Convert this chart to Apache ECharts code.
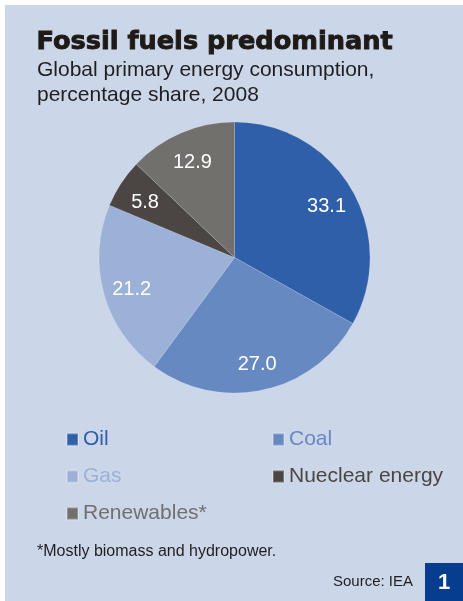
<!DOCTYPE html>
<html>
<head>
<meta charset="utf-8">
<title>Fossil fuels predominant</title>
<script src="https://cdn.jsdelivr.net/npm/echarts@6/dist/echarts.min.js"></script>
<style>
  html, body { margin: 0; padding: 0; background: #ffffff; }
  #chart { width: 463px; height: 601px; }
</style>
</head>
<body>
<div id="chart"></div>
<script>
// Global primary energy consumption, percentage share, 2008 (source: IEA)
const categories = ['Oil', 'Coal', 'Gas', 'Nueclear energy', 'Renewables*'];
const shares = [33.1, 27.0, 21.2, 5.8, 12.9];
const colors = ['#2f5fa9', '#6689c1', '#9cb1d8', '#4b4644', '#71706d'];

const FONT = '"Liberation Sans", Arial, Helvetica, sans-serif';
const HEAVY = '"DejaVu Sans", "Liberation Sans", Arial, sans-serif';
const PANEL = '#cbd6e8';
const CX = 234.5, CY = 257.5, R = 135.5;

const sliceData = categories.map((name, i) => ({
  name: name,
  value: shares[i],
  itemStyle: { color: colors[i] }
}));

const labelData = categories.map((name, i) => ({
  name: name,
  value: shares[i]
}));

const chart = echarts.init(document.getElementById('chart'), null, { renderer: 'canvas' });

chart.setOption({
  backgroundColor: '#ffffff',
  animation: false,
  graphic: [
    {
      type: 'rect', z: -10, silent: true,
      shape: { x: 5, y: 5, width: 458, height: 596 },
      style: { fill: PANEL }
    },
    {
      // heavy headline: bold face thickened with a thin outline of the same ink
      type: 'text', left: 36, top: 29,
      style: {
        text: 'Fossil fuels predominant',
        font: 'bold 25.6px ' + HEAVY,
        fill: '#1e1a17',
        stroke: '#1e1a17',
        lineWidth: 0.9
      }
    },
    {
      type: 'text', left: 37, top: 58,
      style: {
        text: 'Global primary energy consumption,\npercentage share, 2008',
        font: '21px ' + FONT,
        lineHeight: 25,
        fill: '#1f1f1f'
      }
    },
    {
      type: 'text', left: 37, top: 544,
      style: {
        text: '*Mostly biomass and hydropower.',
        font: '16px ' + FONT,
        fill: '#1f1f1f'
      }
    },
    {
      type: 'text', left: 333, top: 574,
      style: {
        text: 'Source: IEA',
        font: '15px ' + FONT,
        fill: '#1f1f1f'
      }
    },
    {
      type: 'rect', silent: true,
      shape: { x: 425, y: 563, width: 38, height: 38 },
      style: { fill: '#063d8f' }
    },
    {
      type: 'text', silent: true,
      x: 444, y: 583,
      style: {
        text: '1',
        font: 'bold 22px ' + FONT,
        fill: '#ffffff',
        align: 'center',
        verticalAlign: 'middle'
      }
    }
  ],
  legend: {
    left: 66,
    top: 429,
    width: 420,
    padding: 0,
    orient: 'horizontal',
    icon: 'rect',
    itemWidth: 11,
    itemHeight: 12,
    itemGap: 16,
    selectedMode: false,
    textStyle: {
      fontFamily: FONT,
      fontSize: 21,
      width: 173,
      lineHeight: 21
    },
    data: categories.map((name, i) => ({
      name: name,
      textStyle: { color: colors[i] }
    }))
  },
  series: [
    {
      name: 'Share',
      type: 'pie',
      center: [CX, CY],
      radius: [0, R],
      startAngle: 90,
      clockwise: true,
      silent: true,
      label: { show: false },
      labelLine: { show: false },
      itemStyle: { borderColor: 'rgba(255,255,255,0.25)', borderWidth: 0.6 },
      data: sliceData
    },
    {
      name: 'Share labels',
      type: 'pie',
      center: [CX, CY],
      radius: [72, R],
      startAngle: 90,
      clockwise: true,
      silent: true,
      legendHoverLink: false,
      itemStyle: { color: 'rgba(0,0,0,0)' },
      label: {
        show: true,
        position: 'inside',
        offset: [0, 3],
        color: '#ffffff',
        fontFamily: FONT,
        fontSize: 20,
        formatter: p => p.value.toFixed(1)
      },
      labelLine: { show: false },
      data: labelData
    }
  ]
});
</script>
</body>
</html>
